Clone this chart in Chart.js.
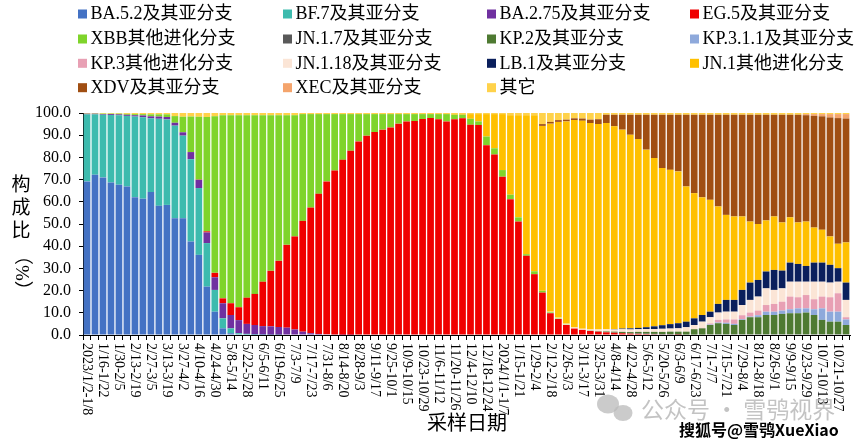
<!DOCTYPE html>
<html>
<head>
<meta charset="utf-8">
<script src="https://cdn.jsdelivr.net/npm/chart.js@4.4.1/dist/chart.umd.min.js"></script>
<style>
html,body{margin:0;padding:0;background:#fff;}
#wrap{width:865px;height:441px;position:relative;}
canvas{display:block;}
</style>
</head>
<body>
<div id="wrap"><canvas id="c" width="865" height="441" style="width:865px;height:441px"></canvas></div>
<script>
// ---- categories (weekly sampling periods) ----
const weeks = [
"2023/1/2-1/8","1/9-1/15","1/16-1/22","1/23-1/29","1/30-2/5","2/6-2/12","2/13-2/19","2/20-2/26","2/27-3/5","3/6-3/12",
"3/13-3/19","3/20-3/26","3/27-4/2","4/3-4/9","4/10-4/16","4/17-4/23","4/24-4/30","5/1-5/7","5/8-5/14","5/15-5/21",
"5/22-5/28","5/29-6/4","6/5-6/11","6/12-6/18","6/19-6/25","6/26-7/2","7/3-7/9","7/10-7/16","7/17-7/23","7/24-7/30",
"7/31-8/6","8/7-8/13","8/14-8/20","8/21-8/27","8/28-9/3","9/4-9/10","9/11-9/17","9/18-9/24","9/25-10/1","10/2-10/8",
"10/9-10/15","10/16-10/22","10/23-10/29","10/30-11/5","11/6-11/12","11/13-11/19","11/20-11/26","11/27-12/3","12/4-12/10","12/11-12/17",
"12/18-12/24","12/25-12/31","2024/1/1-1/7","1/8-1/14","1/15-1/21","1/22-1/28","1/29-2/4","2/5-2/11","2/12-2/18","2/19-2/25",
"2/26-3/3","3/4-3/10","3/11-3/17","3/18-3/24","3/25-3/31","4/1-4/7","4/8-4/14","4/15-4/21","4/22-4/28","4/29-5/5",
"5/6-5/12","5/13-5/19","5/20-5/26","5/27-6/2","6/3-6/9","6/10-6/16","6/17-6/23","6/24-6/30","7/1-7/7","7/8-7/14",
"7/15-7/21","7/22-7/28","7/29-8/4","8/5-8/11","8/12-8/18","8/19-8/25","8/26-9/1","9/2-9/8","9/9-9/15","9/16-9/22",
"9/23-9/29","9/30-10/6","10/7-10/13","10/14-10/20","10/21-10/27","10/28-11/3"
];
const tickLabelStep = 2; // every other week labelled
const yTicks = [0,10,20,30,40,50,60,70,80,90,100];

// ---- series values (%) ----
const BA52 = [
69.2,72.2,71.0,68.7,67.7,66.9,62.1,61.4,64.4,58.2,
58.6,52.6,52.6,42.1,36.1,21.8,10.5,3.0,0.8,0.3,
0.2,0.1,0.1,0,0,0,0,0,0,0,
0,0,0,0,0,0,0,0,0,0,
0,0,0,0,0,0,0,0,0,0,
0,0,0,0,0,0,0,0,0,0,
0,0,0,0,0,0,0,0,0,0,
0,0,0,0,0,0,0,0,0,0,
0,0,0,0,0,0,0,0,0,0,
0,0,0,0,0,0];
const BF7 = [
30.2,27.2,28.2,30.4,31.3,31.8,36.3,36.7,33.2,39.2,
38.5,41.7,37.2,37.1,30.1,19.6,9.8,4.5,2.2,0.5,
0.3,0.2,0.1,0.1,0.1,0,0,0,0,0,
0,0,0,0,0,0,0,0,0,0,
0,0,0,0,0,0,0,0,0,0,
0,0,0,0,0,0,0,0,0,0,
0,0,0,0,0,0,0,0,0,0,
0,0,0,0,0,0,0,0,0,0,
0,0,0,0,0,0,0,0,0,0,
0,0,0,0,0,0];
const BA275 = [
0.3,0.3,0.3,0.4,0.4,0.5,0.6,0.8,0.9,1.0,
1.1,1.3,1.5,3.2,3.7,4.8,5.7,6.8,6.0,5.9,
4.5,4.2,3.8,3.8,3.5,3.3,2.5,1.5,0.8,0.5,
0.3,0.2,0.1,0.1,0,0,0,0,0,0,
0,0,0,0,0,0,0,0,0,0,
0,0,0,0,0,0,0,0,0,0,
0,0,0,0,0,0,0,0,0,0,
0,0,0,0,0,0,0,0,0,0,
0,0,0,0,0,0,0,0,0,0,
0,0,0,0,0,0];
const EG5 = [
0,0,0,0,0,0,0,0,0,0,
0,0,0,0,0.1,0.5,2.0,2.2,5.3,5.8,
11.8,14.0,20.0,25.0,29.8,37.3,41.9,49.9,56.6,63.1,
68.9,73.9,78.8,82.9,87.2,89.8,91.4,92.5,93.5,95.2,
96.2,96.4,97.3,97.7,97.2,96.2,97.2,97.6,94.7,94.6,
85.5,81.3,71.3,61.2,51.1,35.7,27.4,19.1,9.8,7.2,
4.5,2.9,2.3,1.8,1.5,1.2,1.0,0.8,0.6,0.5,
0.4,0.3,0.2,0.2,0.1,0,0,0,0,0,
0,0,0,0,0,0,0,0,0,0,
0,0,0,0,0,0];
const XBB = [
0.1,0.1,0.2,0.2,0.3,0.4,0.5,0.6,0.9,1.0,
1.2,3.0,7.0,16.0,28.3,51.5,70.5,82.5,84.7,86.5,
82.2,80.5,75.0,70.1,65.6,58.4,54.6,48.1,42.1,35.9,
30.3,25.4,20.6,16.5,12.3,9.7,8.1,7.0,6.0,4.3,
3.3,3.1,2.2,1.8,2.3,3.3,2.0,1.6,2.7,1.6,
3.9,2.8,3.0,2.0,1.9,0.7,1.3,0.8,0.4,0.2,
0.1,0,0,0,0,0,0,0,0,0,
0,0,0,0,0,0,0,0,0,0,
0,0,0,0,0,0,0,0,0,0,
0,0,0,0,0,0];
const JN17 = [
0,0,0,0,0,0,0,0,0,0,
0,0,0,0,0,0,0,0,0,0,
0,0,0,0,0,0,0,0,0,0,
0,0,0,0,0,0,0,0,0,0,
0,0,0,0,0,0,0,0,0,0,
0,0,0,0,0,0,0,0,0,0,
0,0,0,0,0,0.1,0.1,0.1,0.1,0.2,
0.2,0.2,0.2,0.2,0.2,0.2,0.2,0.2,0.3,0.3,
0.3,0.3,0.3,0.3,0.3,0.3,0.3,0.3,0.3,0.3,
0.3,0.3,0.3,0.3,0.3,0.3];
const KP2 = [
0,0,0,0,0,0,0,0,0,0,
0,0,0,0,0,0,0,0,0,0,
0,0,0,0,0,0,0,0,0,0,
0,0,0,0,0,0,0,0,0,0,
0,0,0,0,0,0,0,0,0,0,
0,0,0,0,0,0,0,0,0,0,
0,0,0,0.1,0.2,0.3,0.4,0.5,0.6,0.7,
0.8,0.9,1.0,1.1,1.2,1.3,2.4,2.8,4.2,5.0,
4.7,4.2,6.5,7.7,7.7,8.7,8.7,9.2,9.5,9.5,
9.8,8.7,6.5,5.7,5.7,4.2];
const KP311 = [
0,0,0,0,0,0,0,0,0,0,
0,0,0,0,0,0,0,0,0,0,
0,0,0,0,0,0,0,0,0,0,
0,0,0,0,0,0,0,0,0,0,
0,0,0,0,0,0,0,0,0,0,
0,0,0,0,0,0,0,0,0,0,
0,0,0,0,0,0,0,0,0,0,
0,0,0,0,0,0,0,0,0.2,0.3,
0.5,0.5,0.3,0.3,0.9,1.5,1.5,1.5,1.8,2.2,
1.9,2.6,5.2,4.5,4.5,2.5];
const KP3 = [
0,0,0,0,0,0,0,0,0,0,
0,0,0,0,0,0,0,0,0,0,
0,0,0,0,0,0,0,0,0,0,
0,0,0,0,0,0,0,0,0,0,
0,0,0,0,0,0,0,0,0,0,
0,0,0,0,0,0,0,0,0,0,
0,0,0,0,0,0,0,0,0,0,
0,0,0,0,0,0,0,0.2,0.5,1.2,
1.5,2.0,1.8,1.8,2.1,3.0,3.5,4.0,5.7,5.0,
6.0,4.5,5.3,6.5,8.3,1.0];
const JN118 = [
0,0,0,0,0,0,0,0,0,0,
0,0,0,0,0,0,0,0,0,0,
0,0,0,0,0,0,0,0,0,0,
0,0,0,0,0,0,0,0,0,0,
0,0,0,0,0,0,0,0,0,0,
0,0,0,0,0,0,0,0,0.3,0.4,
0.5,0.5,0.5,0.6,0.8,1.0,1.0,1.2,1.2,1.2,
1.3,1.3,1.4,1.4,1.5,2.0,1.9,2.8,2.8,3.3,
3.5,3.5,4.6,5.7,6.3,7.5,6.3,6.0,6.7,7.0,
6.0,7.9,6.7,6.6,5.2,7.8];
const LB1 = [
0,0,0,0,0,0,0,0,0,0,
0,0,0,0,0,0,0,0,0,0,
0,0,0,0,0,0,0,0,0,0,
0,0,0,0,0,0,0,0,0,0,
0,0,0,0,0,0,0,0,0,0,
0,0,0,0,0,0,0,0,0,0,
0,0,0,0,0,0,0.2,0.3,0.5,0.6,
0.8,1.2,1.6,2.0,2.3,2.5,3.0,3.0,2.5,3.9,
5.3,5.3,6.8,7.8,7.5,7.6,9.0,8.0,8.6,8.0,
7.1,8.6,8.6,8.0,6.1,7.8];
const JN1 = [
0,0,0,0,0,0,0,0,0,0,
0,0,0,0,0,0,0,0,0,0,
0,0,0,0,0,0,0,0,0,0,
0,0,0,0,0,0,0,0,0,0,
0,0,0,0,0,0,0.3,0.3,2.1,3.3,
10.1,15.4,25.2,35.8,46.0,62.6,70.3,74.3,84.7,88.2,
91.1,93.4,93.7,93.0,92.5,92.9,91.3,89.6,87.2,85.1,
80.0,75.8,70.8,69.5,68.4,60.9,56.4,53.0,50.4,43.9,
38.3,37.6,33.1,27.5,25.2,23.0,24.1,21.7,20.4,18.7,
20.0,15.8,14.8,12.8,11.0,18.1];
const XDV = [
0,0,0,0,0,0,0,0,0,0,
0,0,0,0,0,0,0,0,0,0,
0,0,0,0,0,0,0,0,0,0,
0,0,0,0,0,0,0,0,0,0,
0,0,0,0,0,0,0,0,0,0,
0,0,0,0,0,0,0,0.8,0.8,0.8,
0.8,0.8,1.0,1.5,2.2,3.7,5.2,6.7,9.0,10.9,
15.7,19.5,24.0,24.8,25.5,32.3,35.3,37.2,38.3,41.3,
45.1,45.8,45.8,48.1,49.2,47.6,45.8,48.5,46.2,48.5,
47.9,50.3,51.1,53.6,56.6,55.8];
const XEC = [
0,0,0,0,0,0,0,0,0,0,
0,0,0,0,0,0,0,0,0,0,
0,0,0,0,0,0,0,0,0,0,
0,0,0,0,0,0,0,0,0,0,
0,0,0,0,0,0,0,0,0,0,
0,0,0,0,0,0,0,0,0,0,
0,0,0,0,0,0,0,0,0,0,
0,0,0,0,0,0,0,0,0,0,
0,0,0,0,0,0,0,0,0,0,
0.5,0.8,1.0,1.5,1.8,2.0];
const OTHER = [
0.2,0.2,0.3,0.3,0.3,0.4,0.5,0.5,0.6,0.6,
0.6,1.4,1.7,1.6,1.7,1.8,1.5,1.0,1.0,1.0,
1.0,1.0,1.0,1.0,1.0,1.0,1.0,0.5,0.5,0.5,
0.5,0.5,0.5,0.5,0.5,0.5,0.5,0.5,0.5,0.5,
0.5,0.5,0.5,0.5,0.5,0.5,0.5,0.5,0.5,0.5,
0.5,0.5,0.5,1.0,1.0,1.0,1.0,5.0,4.0,3.2,
3.0,2.4,2.5,3.0,2.8,0.8,0.8,0.8,0.8,0.8,
0.8,0.8,0.8,0.8,0.8,0.8,0.8,0.8,0.8,0.8,
0.8,0.8,0.8,0.8,0.8,0.8,0.8,0.8,0.8,0.8,
0.5,0.5,0.5,0.5,0.5,0.5];

const seriesNames = ["BA.5.2及其亚分支","BF.7及其亚分支","BA.2.75及其亚分支","EG.5及其亚分支",
  "XBB其他进化分支","JN.1.7及其亚分支","KP.2及其亚分支","KP.3.1.1及其亚分支",
  "KP.3其他进化分支","JN.1.18及其亚分支","LB.1及其亚分支","JN.1其他进化分支",
  "XDV及其亚分支","XEC及其亚分支","其它"];
const seriesValues = [BA52,BF7,BA275,EG5,XBB,JN17,KP2,KP311,KP3,JN118,LB1,JN1,XDV,XEC,OTHER];
const seriesColors = ["#4472C4","#3DBBAE","#7030A0","#F00000",
  "#7FD42B","#595959","#4E7A32","#8EA9DB",
  "#E8A0B4","#FBE5D6","#0A1F5C","#FFC000",
  "#A04E12","#F4A46C","#FFD24A"];

const FONT = "'Liberation Serif','Noto Sans CJK SC',serif";

const decor = {
  id: 'decor',
  afterDraw(chart) {
    const c = chart.ctx, xs = chart.scales.x, area = chart.chartArea;
    c.save();
    c.fillStyle = '#000';
    // x tick labels, rotated clockwise
    c.font = '14px ' + FONT;
    c.textAlign = 'left';
    c.textBaseline = 'middle';
    weeks.forEach((w, i) => {
      if (i % tickLabelStep) return;
      const x = xs.getPixelForValue(i);
      c.save();
      c.translate(x, area.bottom + 8);
      c.rotate(Math.PI / 2);
      c.fillText(w, 0, 0);
      c.restore();
    });
    // x title
    c.font = '20px ' + FONT;
    c.textAlign = 'center';
    c.fillText('采样日期', 467, 425);
    // y title (vertical)
    c.font = '19px ' + FONT;
    ['构','成','比'].forEach((ch, k) => c.fillText(ch, 21, 186 + k * 23));
    c.save();
    c.translate(21, 246);
    c.rotate(Math.PI / 2);
    c.textAlign = 'left';
    c.fillText('（%）', 0, 0);
    c.restore();
    // legend 4 columns
    const cols = [78, 283, 487, 690], rows = [14, 39, 63.3, 87.7];
    c.font = '18px ' + FONT;
    c.textAlign = 'left';
    chart.data.datasets.forEach((ds, k) => {
      const x = cols[k % 4], y = rows[Math.floor(k / 4)];
      c.fillStyle = ds.backgroundColor;
      c.fillRect(x, y - 4.5, 9, 9);
      c.fillStyle = '#000';
      c.fillText(ds.label, x + 12.5, y + 0.5);
    });
    // watermark
    c.fillStyle = 'rgba(185,185,185,0.75)';
    c.beginPath(); c.ellipse(608, 404, 11, 9.5, 0, 0, Math.PI * 2); c.fill();
    c.beginPath(); c.ellipse(623, 413, 9.5, 8, 0, 0, Math.PI * 2); c.fill();
    c.font = '23px "Noto Sans CJK SC"';
    c.fillStyle = 'rgba(175,175,175,0.75)';
    c.textAlign = 'left';
    c.fillText('公众号 · 雪鸮视界', 641, 409);
    c.font = 'bold 16px "Noto Sans CJK SC"';
    c.lineWidth = 3; c.strokeStyle = '#fff'; c.lineJoin = 'round';
    c.strokeText('搜狐号@雪鸮XueXiao', 679, 430);
    c.fillStyle = '#000';
    c.fillText('搜狐号@雪鸮XueXiao', 679, 430);
    c.restore();
  }
};

const chart = new Chart(document.getElementById('c'), {
  type: 'bar',
  data: {
    labels: weeks,
    datasets: seriesNames.map((n, k) => ({
      label: n,
      data: seriesValues[k],
      backgroundColor: seriesColors[k],
      borderWidth: 0,
      barPercentage: 0.84,
      categoryPercentage: 1.0
    }))
  },
  options: {
    responsive: false,
    animation: false,
    devicePixelRatio: 1,
    layout: { padding: { top: 113, right: 15, left: 0, bottom: 0 } },
    plugins: { legend: { display: false }, tooltip: { enabled: false } },
    scales: {
      x: {
        stacked: true,
        grid: { display: true, drawOnChartArea: false, drawTicks: true, tickLength: 5, color: '#000', offset: true },
        border: { display: true, color: '#000', width: 1 },
        ticks: { display: false, autoSkip: false },
        afterFit: s => { s.height = 106; }
      },
      y: {
        stacked: true,
        min: 0, max: 100,
        afterBuildTicks: s => { s.ticks = yTicks.map(v => ({ value: v })); },
        ticks: { callback: v => Number(v).toFixed(1), color: '#000', padding: 8,
                 font: { family: FONT, size: 16 } },
        grid: { display: true, drawOnChartArea: false, drawTicks: true, tickLength: 4, color: '#000' },
        border: { display: true, color: '#000', width: 1 },
        afterFit: s => { s.width = 83; }
      }
    }
  },
  plugins: [decor]
});
</script>
</body>
</html>
